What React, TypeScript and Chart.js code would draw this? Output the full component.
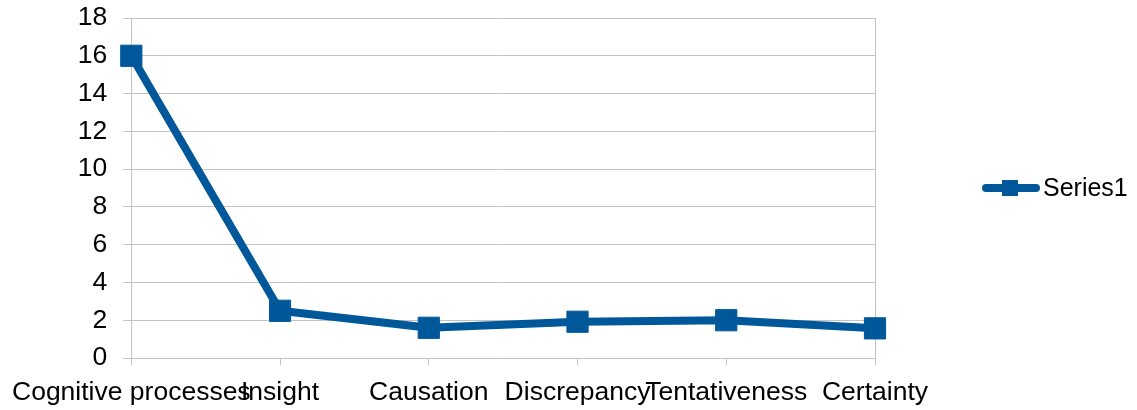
import React, { useEffect, useRef } from "react";
import { Chart, registerables } from "chart.js";

Chart.register(...registerables);

const categories = ["Cognitive processes", "Insight", "Causation", "Discrepancy", "Tentativeness", "Certainty"];
const series1 = [16, 2.5, 1.6, 1.92, 2.0, 1.57];
const seriesName = "Series1";
const yMin = 0;
const yMax = 18;
const yStep = 2;

const LINE_COLOR = "#00589b";
const GRID_COLOR = "#c3c3c3";
const FONT = "'Liberation Sans', Arial, sans-serif";

const legendPlugin = {
  id: "customLegend",
  afterDraw(chart: any) {
    const ctx = chart.ctx;
    const ds = chart.data.datasets[0];
    const y = 188;
    ctx.save();
    ctx.strokeStyle = ds.borderColor;
    ctx.lineWidth = 8;
    ctx.lineCap = "round";
    ctx.beginPath();
    ctx.moveTo(986, y);
    ctx.lineTo(1036, y);
    ctx.stroke();
    ctx.fillStyle = ds.borderColor;
    ctx.fillRect(1002, y - 8, 16, 16);
    ctx.fillStyle = "#000";
    ctx.font = `25px ${FONT}`;
    ctx.textBaseline = "middle";
    ctx.textAlign = "left";
    ctx.fillText(ds.label, 1043, y + 1);
    ctx.restore();
  },
};

export default function App() {
  const ref = useRef<HTMLCanvasElement>(null);
  useEffect(() => {
    document.body.style.margin = "0";
    const last = categories.length - 1;
    const chart = new Chart(ref.current!, {
      type: "line",
      data: {
        labels: categories,
        datasets: [
          {
            label: seriesName,
            data: series1,
            borderColor: LINE_COLOR,
            backgroundColor: LINE_COLOR,
            borderWidth: 8,
            borderJoinStyle: "round",
            borderCapStyle: "round",
            pointStyle: "rect",
            pointRadius: 15,
            pointBorderWidth: 1,
            pointBackgroundColor: LINE_COLOR,
            pointBorderColor: LINE_COLOR,
            tension: 0,
          },
        ],
      },
      options: {
        animation: false,
        responsive: false,
        maintainAspectRatio: false,
        layout: { padding: { top: 18, right: 262, left: 0, bottom: 0 } },
        plugins: { legend: { display: false }, tooltip: { enabled: false } },
        scales: {
          x: {
            type: "category",
            offset: false,
            afterFit: (s: any) => {
              s.height = 52;
              s.paddingTop = 0;
            },
            grid: {
              display: true,
              drawOnChartArea: true,
              color: (c: any) => (c.index === 0 || c.index === last ? GRID_COLOR : "rgba(0,0,0,0)"),
              tickColor: GRID_COLOR,
              tickLength: 7,
              lineWidth: 1,
            },
            border: { display: true, color: GRID_COLOR },
            ticks: {
              maxRotation: 0,
              minRotation: 0,
              autoSkip: false,
              color: "#000",
              padding: 12,
              font: { family: FONT, size: 26.5 },
            },
          },
          y: {
            min: yMin,
            max: yMax,
            afterFit: (s: any) => {
              s.width = 131;
              s.paddingTop = 0;
              s.paddingBottom = 0;
            },
            grid: { color: GRID_COLOR, tickLength: 8, tickColor: GRID_COLOR },
            border: { display: true, color: GRID_COLOR },
            ticks: {
              stepSize: yStep,
              color: "#000",
              padding: 16,
              font: { family: FONT, size: 26.5 },
            },
          },
        },
      },
      plugins: [legendPlugin],
    });
    return () => chart.destroy();
  }, []);
  return (
    <div style={{ position: "absolute", left: 0, top: 0, width: 1137, height: 410 }}>
      <canvas ref={ref} width={1137} height={410} style={{ display: "block", width: 1137, height: 410 }} />
    </div>
  );
}
